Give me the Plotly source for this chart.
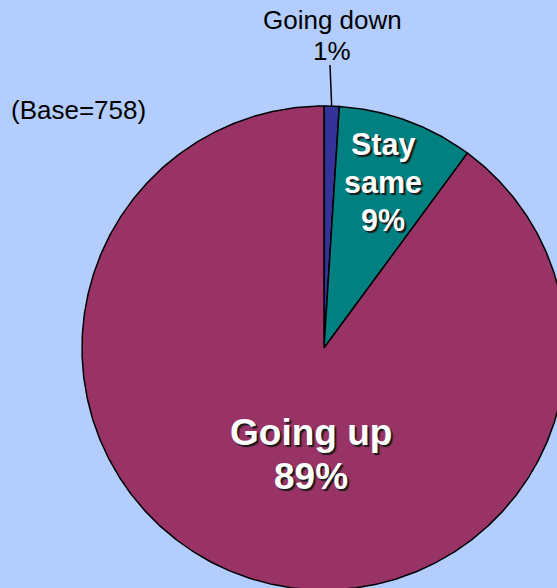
import numpy as np
import plotly.graph_objects as go

# Survey answers, drawn clockwise from 12 o'clock
categories = ["Going down", "Stay same", "Going up"]
values = [1, 9, 89]
colors = ["#333399", "#008080", "#993366"]
base_n = 758

W, H = 557, 588
CX, CY, R = 324, 348, 242  # pie centre and radius in pixel units

fig = go.Figure()

total = sum(values)
start = 0.0
mids = []
for cat, v, c in zip(categories, values, colors):
    a0 = start / total * 2 * np.pi
    a1 = (start + v) / total * 2 * np.pi
    n = max(8, int(np.degrees(a1 - a0)) * 2)
    th = np.linspace(a0, a1, n)
    xs = np.concatenate([[CX], CX + R * np.sin(th), [CX]])
    ys = np.concatenate([[CY], CY - R * np.cos(th), [CY]])
    fig.add_trace(go.Scatter(
        x=xs, y=ys, mode="lines", fill="toself", fillcolor=c,
        line=dict(color="black", width=1.5), name=cat, hoverinfo="name",
    ))
    mids.append((a0 + a1) / 2)
    start += v

FONT = "Liberation Sans, Arial, sans-serif"
SHADOW = "2px 2px 1px #1a1a1a"

def label(x, y, text, size, bold=False, color="black", shadow=None):
    f = dict(family=FONT, size=size, color=color)
    if bold:
        f["weight"] = "bold"
    if shadow:
        f["shadow"] = shadow
    fig.add_annotation(x=x, y=y, text=text, showarrow=False, font=f,
                       xanchor="center", yanchor="middle")

# Outside label for the thin slice, with a leader line to its rim
m0 = mids[0]
rim_x, rim_y = CX + R * np.sin(m0), CY - R * np.cos(m0)
fig.add_shape(type="line", x0=rim_x, y0=rim_y, x1=330, y1=65,
              line=dict(color="black", width=1.5))
label(332, 20, categories[0], 26)
label(332, 50.5, f"{values[0]}%", 26)

# Inside labels
label(383, 144, "Stay", 30.5, bold=True, color="white", shadow=SHADOW)
label(383, 182, "same", 30.5, bold=True, color="white", shadow=SHADOW)
label(383, 220, f"{values[1]}%", 30.5, bold=True, color="white", shadow=SHADOW)

label(311, 432, categories[2], 37, bold=True, color="white", shadow=SHADOW)
label(311, 476, f"{values[2]}%", 37, bold=True, color="white", shadow=SHADOW)

fig.add_annotation(x=9, y=110, text=f"(Base={base_n})", showarrow=False,
                   xanchor="left", yanchor="middle",
                   font=dict(family=FONT, size=26, color="black"))

fig.update_layout(
    width=W, height=H, margin=dict(l=0, r=0, t=0, b=0),
    paper_bgcolor="#B4CDFF", plot_bgcolor="#B4CDFF",
    showlegend=False,
    xaxis=dict(range=[0, W], visible=False, fixedrange=True),
    yaxis=dict(range=[H, 0], visible=False, fixedrange=True),
)

fig.write_html("out.html")
